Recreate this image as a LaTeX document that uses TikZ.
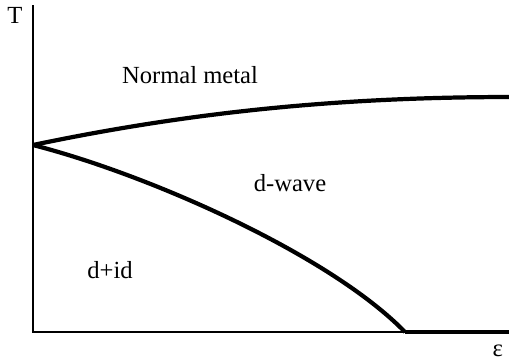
\documentclass[tikz,border=0pt]{standalone}
\usepackage{fontspec}
\setmainfont{Liberation Serif}
\begin{document}
\begin{tikzpicture}[x=0.02cm,y=-0.02cm,
  axis/.style={line width=1.6pt},
  phase/.style={line width=2.4pt},
  lbl/.style={font=\fontsize{14}{16}\selectfont}]
\useasboundingbox (0,0) rectangle (509,363);
\clip (0,0) rectangle (509,363);
\coordinate (top) at (33,5);
\coordinate (origin) at (33,332);
\coordinate (tri) at (33,145);
\coordinate (qcp) at (405,332);
\coordinate (right) at (512,332);
\coordinate (far) at (512,97);
\draw[axis] (top) -- (origin) -- (qcp);
\draw[phase] (tri) .. controls (200,110) and (350,97) .. (far);
\draw[phase] (tri) .. controls (150,175) and (330,255) .. (qcp);
\draw[phase] (qcp) -- (right);
\node[lbl] (tlabel) at (15,15) {T};
\node[lbl] (normal) at (190,75) {Normal metal};
\node[lbl] (dwave) at (290,183) {d-wave};
\node[lbl] (did) at (110,270) {d+id};
\node[lbl,inner sep=1pt,anchor=south east] (eps) at (505,359) {ε};
\end{tikzpicture}
\end{document}
